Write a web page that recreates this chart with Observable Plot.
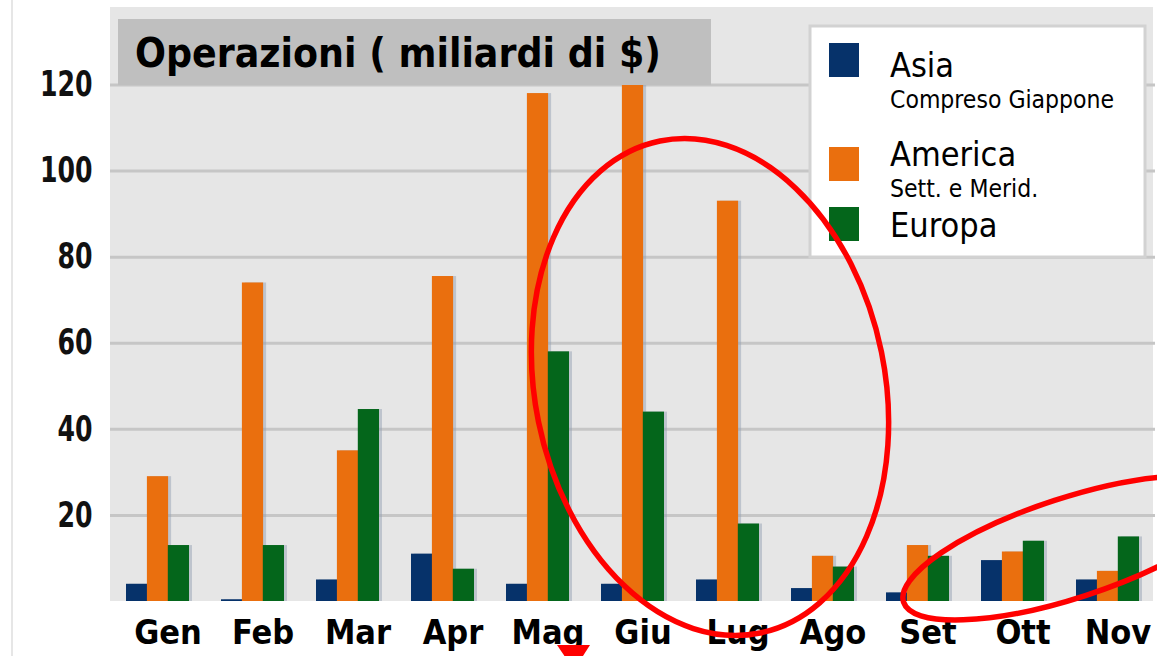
<!DOCTYPE html>
<html><head><meta charset="utf-8">
<script src="https://cdn.jsdelivr.net/npm/d3@7"></script>
<script src="https://cdn.jsdelivr.net/npm/@observablehq/plot@0.6"></script>
<style>
html,body{margin:0;padding:0;background:#fff;}
#wrap{width:1157px;height:656px;overflow:hidden;}
</style>
</head><body><div id="wrap"></div>
<script>
const months = ["Gen","Feb","Mar","Apr","Mag","Giu","Lug","Ago","Set","Ott","Nov"];
const seriesNames = ["Asia","America","Europa"];
const asia    = [4, 0.4, 5, 11, 4, 4, 5, 3, 2, 9.5, 5];
const america = [29, 74, 35, 75.5, 118, 120, 93, 10.5, 13, 11.5, 7];
const europa  = [13, 13, 44.6, 7.5, 58, 44, 18, 8, 10.5, 14, 15];
const yTicks = [20, 40, 60, 80, 100, 120];
const colors = ["#06326a", "#ea6f0e", "#04661b"];
const legendSubs = ["Compreso Giappone", "Sett. e Merid.", ""];
const titleText = "Operazioni ( miliardi di $)";

const W = 1157, H = 656, ML = 110, MR = 2, MT = 7, MB = 55;
const padIn = 0.34, padOut = 0.17;
const step = (W - ML - MR) / (months.length - padIn + 2 * padOut);
const bw = step * (1 - padIn);
const third = bw / 3;

const seriesVals = [asia, america, europa];
const data = months.flatMap((m, i) => seriesNames.map((s, k) => ({month: m, series: s, value: seriesVals[k][i]})));

const condensed = "'DejaVu Sans Condensed','DejaVu Sans',sans-serif";
const barMarks = [];
seriesNames.forEach((s, k) => {
  const sub = data.filter(d => d.series === s);
  const insets = {insetLeft: k * third, insetRight: (2 - k) * third};
  barMarks.push(Plot.barY(sub, {x: "month", y: "value", fill: "#8f9bb0", fillOpacity: 0.45, dx: 3, ...insets}));
});
seriesNames.forEach((s, k) => {
  const sub = data.filter(d => d.series === s);
  const insets = {insetLeft: k * third, insetRight: (2 - k) * third};
  barMarks.push(Plot.barY(sub, {x: "month", y: "value", fill: colors[k], ...insets}));
});

const chart = Plot.plot({
  width: W, height: H,
  marginLeft: ML, marginRight: MR, marginTop: MT, marginBottom: MB,
  style: {background: "transparent", overflow: "visible"},
  x: {domain: months, paddingInner: padIn, paddingOuter: padOut, label: null},
  y: {domain: [0, 138], label: null},
  marks: [
    Plot.gridY(yTicks, {stroke: "#c6c6c6", strokeWidth: 3, strokeOpacity: 1}),
    ...barMarks,
    Plot.axisY(yTicks, {tickSize: 0, tickPadding: 18, fontSize: 35, fontWeight: "bold", fill: "#111",
      fontFamily: condensed, label: null}),
    Plot.axisX({tickSize: 0, tickPadding: 18, fontSize: 34, fontWeight: "bold", fill: "#000", dx: 10,
      fontFamily: condensed, label: null})
  ]
});
document.getElementById("wrap").appendChild(chart);

const svg = d3.select(chart);
// narrow the y tick labels like the original's condensed digits (scale about each label's anchor)
svg.selectAll("g[aria-label='y-axis tick label'] text").each(function() {
  const t = d3.select(this);
  const tr = t.attr("transform") || "";
  const x = +(t.attr("x") || 0);
  t.attr("transform", `${tr} translate(${x},0) scale(0.8,1) translate(${-x},0)`);
});

// plot background
svg.insert("rect", ":first-child").attr("x", ML).attr("y", MT).attr("width", W - ML - MR - 2)
  .attr("height", (H - MB) - MT).attr("fill", "#e6e6e6");
svg.insert("line", ":first-child").attr("x1", 12).attr("x2", 12).attr("y1", 0).attr("y2", H)
  .attr("stroke", "#e6e6e6").attr("stroke-width", 2);

// title box
const tg = svg.append("g").attr("text-anchor", "start");
tg.append("rect").attr("x", 118).attr("y", 19).attr("width", 593).attr("height", 66).attr("fill", "#bfbfbf");
tg.append("text").attr("x", 135).attr("y", 67).attr("font-family", condensed).attr("font-weight", "bold")
  .attr("font-size", 40.5).attr("fill", "#000").text(titleText);

// legend
const lg = svg.append("g").attr("text-anchor", "start");
lg.append("rect").attr("x", 810).attr("y", 26).attr("width", 335).attr("height", 231)
  .attr("fill", "#fff").attr("stroke", "#d2d2d2").attr("stroke-width", 3);
const sqY = [43, 147, 207];
const mainY = [77, 166, 237];
const subY = [108, 197, 0];
seriesNames.forEach((s, k) => {
  lg.append("rect").attr("x", 829).attr("y", sqY[k]).attr("width", 30).attr("height", 34).attr("fill", colors[k]);
  lg.append("text").attr("x", 890).attr("y", mainY[k]).attr("font-family", condensed)
    .attr("font-size", 34).attr("fill", "#000").text(s);
  if (legendSubs[k]) lg.append("text").attr("x", 890).attr("y", subY[k]).attr("font-family", condensed)
    .attr("font-size", 24.5).attr("fill", "#000").text(legendSubs[k]);
});

// red annotations
const ag = svg.append("g").attr("fill", "none").attr("stroke", "#ff0000").attr("stroke-width", 5.5);
ag.append("ellipse").attr("cx", 710).attr("cy", 387).attr("rx", 175).attr("ry", 251)
  .attr("transform", "rotate(-11.5 710 387)");
ag.append("ellipse").attr("cx", 1070).attr("cy", 548).attr("rx", 175).attr("ry", 50)
  .attr("transform", "rotate(-18 1070 548)");
svg.append("polygon").attr("points", "557,645 590,645 574,670").attr("fill", "#ff0000");
</script>
</body></html>
